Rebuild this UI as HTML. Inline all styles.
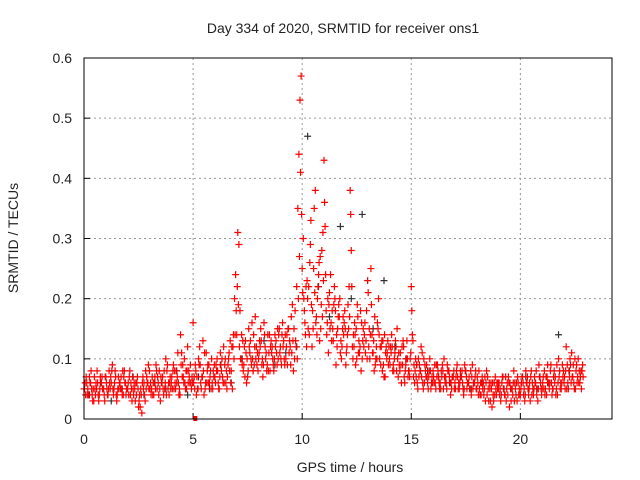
<!DOCTYPE html>
<html><head><meta charset="utf-8"><style>
body{margin:0;background:#fff}
svg{display:block;font-family:"Liberation Sans",sans-serif}
</style></head><body>
<svg id="c" width="640" height="480"></svg>
<script>
const xTicks=[0,5,10,15,20];
const yTicks=[0,0.1,0.2,0.3,0.4,0.5,0.6];
const yTickLabels=["0","0.1","0.2","0.3","0.4","0.5","0.6"];
const redA=[.05,.07,.04,.06,.03,.05,.08,.04,.06,.05, .07,.04,.05,.09,.06,.03,.05,.07,.04,.06, .05,.08,.03,.06,.04,.02,.05,.07,.03,.06, .08,.05,.04,.09,.06,.03,.07,.05,.08,.04, .06,.09,.05,.11,.04,.07,.10,.05,.08,.06, .16,.09,.05,.12,.07,.04,.11,.06,.08,.05, .07,.10,.05,.08,.12,.06,.09,.13,.05,.20, .14,.29,.10,.08,.13,.07,.11,.16,.09,.12, .10,.15,.07,.12,.09,.14,.11,.08,.13,.10, .12,.16,.09,.14,.11,.17,.08,.13,.35,.53, .25,.18,.12,.22,.33,.15,.38,.20,.13,.28, .43,.18,.11,.24,.15,.20,.12,.17,.10,.14, .09,.19,.38,.12,.16,.10,.13,.08,.15,.11, .23,.10,.14,.08,.12,.20,.09,.13,.07,.11, .10,.14,.08,.12,.07,.11,.09,.06,.13,.08, .22,.07,.10,.05,.08,.11,.06,.09,.07,.05, .08,.06,.09,.05,.07,.10,.06,.08,.04,.07, .06,.09,.05,.07,.04,.08,.06,.05,.09,.06, .05,.08,.04,.06,.03,.07,.05,.02,.06,.04, .05,.03,.07,.04,.06,.02,.05,.08,.04,.06, .04,.07,.03,.06,.05,.08,.04,.06,.03,.07, .05,.08,.04,.06,.09,.05,.07,.04,.08,.06, .06,.12,.05,.09,.07,.10,.06,.08,.05];
const redB=[.06,.04,.07,.05,.03,.06,.04,.07,.05,.03, .05,.08,.06,.04,.07,.05,.06,.04,.08,.05, .04,.06,.05,.03,.07,.04,.01,.06,.05,.09, .06,.04,.07,.05,.08,.06,.04,.10,.05,.07, .05,.08,.06,.04,.09,.07,.05,.12,.06,.07, .07,.04,.10,.06,.13,.05,.08,.06,.10,.07, .09,.06,.11,.07,.09,.05,.11,.08,.14,.24, .31,.18,.09,.12,.06,.15,.10,.08,.17,.11, .13,.09,.16,.11,.08,.12,.10,.14,.09,.15, .09,.13,.10,.15,.12,.19,.10,.22,.44,.57, .30,.14,.20,.26,.12,.35,.17,.24,.15,.31, .32,.16,.21,.13,.19,.09,.17,.11,.15,.18, .12,.22,.28,.14,.09,.17,.12,.10,.14,.18, .12,.25,.11,.09,.16,.10,.13,.07,.12,.09, .12,.08,.11,.15,.09,.06,.12,.09,.07,.10, .14,.06,.09,.07,.12,.05,.08,.06,.10,.07, .06,.09,.07,.05,.08,.06,.09,.07,.05,.08, .07,.05,.08,.06,.09,.05,.07,.04,.06,.08, .06,.04,.07,.05,.08,.03,.06,.04,.07,.05, .04,.06,.05,.03,.07,.05,.04,.06,.03,.05, .06,.04,.08,.05,.03,.06,.07,.04,.09,.05, .07,.05,.09,.06,.04,.08,.05,.10,.06,.07, .05,.09,.07,.11,.06,.08,.10,.07,.09];
const redC=[.05,.06,.04,.08,.05,.04,.06,.05,.07,.04, .06,.05,.07,.05,.08,.04,.06,.05,.07,.04, .06,.04,.07,.05,.06,.03,.04,.05,.08,.06, .05,.07,.06,.08,.04,.07,.05,.06,.09,.06, .07,.05,.08,.06,.14,.09,.06,.08,.07,.05, .06,.08,.05,.09,.07,.11,.06,.09,.05,.08, .06,.08,.07,.10,.06,.08,.10,.06,.12,.14, .22,.12,.14,.09,.11,.08,.13,.10,.12,.09, .11,.13,.09,.10,.14,.08,.12,.10,.11,.14, .10,.12,.14,.09,.13,.11,.15,.12,.20,.41, .21,.16,.23,.14,.19,.25,.16,.22,.27,.17, .36,.14,.19,.16,.13,.18,.15,.20,.12,.16, .11,.15,.34,.10,.14,.19,.11,.16,.12,.13, .21,.14,.11,.17,.10,.14,.12,.09,.11,.13, .09,.12,.10,.08,.11,.09,.13,.08,.10,.07, .18,.09,.07,.10,.08,.06,.09,.07,.08,.06, .07,.05,.08,.06,.09,.07,.05,.08,.06,.07, .05,.07,.06,.08,.05,.07,.06,.08,.05,.07, .07,.05,.06,.04,.06,.05,.03,.06,.04,.06, .06,.04,.05,.07,.04,.06,.05,.03,.06,.04, .05,.06,.04,.07,.06,.04,.05,.08,.05,.06, .06,.04,.07,.05,.06,.07,.04,.06,.05,.09, .07,.05,.08,.06,.09,.05,.07,.06,.08];
const redD=[.04,.05,.06,.04,.07,.05,.03,.06,.05,.07, .04,.06,.08,.05,.04,.07,.05,.08,.06,.05, .07,.05,.04,.06,.05,.02,.06,.04,.07,.05, .04,.06,.05,.07,.05,.06,.08,.04,.06,.05, .08,.06,.07,.05,.11,.06,.08,.06,.09,.06, .05,.07,.09,.05,.08,.06,.09,.07,.06,.09, .08,.05,.09,.06,.10,.07,.08,.12,.10,.18, .19,.10,.13,.07,.10,.12,.09,.14,.10,.08, .12,.10,.14,.08,.11,.13,.09,.12,.15,.11, .14,.10,.12,.15,.09,.13,.18,.10,.27,.34, .20,.22,.15,.29,.18,.21,.14,.26,.19,.23, .24,.20,.15,.18,.22,.14,.19,.13,.17,.15, .14,.17,.22,.12,.15,.11,.18,.13,.16,.10, .15,.19,.13,.10,.15,.12,.08,.14,.10,.12, .11,.09,.13,.10,.08,.12,.07,.10,.08,.11, .13,.08,.06,.09,.07,.10,.07,.05,.08,.06, .09,.07,.06,.08,.05,.07,.08,.06,.07,.05, .08,.06,.07,.05,.08,.06,.05,.07,.06,.05, .04,.06,.05,.07,.04,.06,.05,.03,.05,.06, .05,.07,.04,.05,.06,.03,.06,.05,.07,.04, .07,.05,.06,.04,.07,.05,.06,.05,.07,.04, .05,.07,.06,.08,.05,.06,.09,.07,.05,.08, .08,.06,.10,.07,.05,.09,.06,.08,.07];
const blackV=[.04,.06,.03,.05,.07,.04,.06,.05,.08,.04, .07,.05,.09,.06,.10,.08,.13,.09,.11,.12, .47,.22,.17,.32,.20,.34,.15,.23,.12,.10, .09,.08,.07,.06,.07,.05,.06,.04,.05,.06, .07,.05,.06,.14,.08,.07];
const stepA=0.1, offB=0.05, offC=0.025, offD=0.075, stepK=0.5, offK=0.25;
const X0=84,X1=612,Y0=419,Y1=58,XMAX=24.2,YMAX=0.6;
const sx=v=>X0+v/XMAX*(X1-X0), sy=v=>Y0-v/YMAX*(Y0-Y1);
const svg=document.getElementById('c'),NS='http://www.w3.org/2000/svg';
function mk(t,a,p){const e=document.createElementNS(NS,t);for(const k in a)e.setAttribute(k,a[k]);(p||svg).appendChild(e);return e;}
const g=mk('g',{});


xTicks.forEach(t=>{if(t>0){mk('line',{x1:sx(t),x2:sx(t),y1:Y1,y2:Y0,stroke:'#999','stroke-dasharray':'2,3'},g);}
 const tx=mk('text',{x:sx(t),y:444,'text-anchor':'middle','font-size':14,fill:'#222'});tx.textContent=t;
 
 
 mk('line',{x1:sx(t),x2:sx(t),y1:Y0,y2:Y0-6,stroke:'#000'});});
yTicks.forEach((t,i)=>{if(t>0&&t<0.6)mk('line',{x1:X0,x2:X1,y1:sy(t),y2:sy(t),stroke:'#999','stroke-dasharray':'2,3'},g);
 const tx=mk('text',{x:72,y:sy(t)+5,'text-anchor':'end','font-size':14,fill:'#222'});tx.textContent=yTickLabels[i];
 
 
 mk('line',{x1:X0,x2:X0+6,y1:sy(t),y2:sy(t),stroke:'#000'});});
function plus(x,y,c,name){const p=mk('path',{d:`M${x-3.5},${y}h7M${x},${y-3.5}v7`,stroke:c,'stroke-width':1.2,fill:'none'});
 
 }
blackV.forEach((v,i)=>plus(sx(offK+i*stepK),sy(v),'#333','black-point'));
redA.forEach((v,i)=>plus(sx(i*stepA),sy(v),'#f00','red-point'));
redB.forEach((v,i)=>plus(sx(offB+i*stepA),sy(v),'#f00','red-point'));
redC.forEach((v,i)=>plus(sx(offC+i*stepA),sy(v),'#f00','red-point'));
redD.forEach((v,i)=>plus(sx(offD+i*stepA),sy(v),'#f00','red-point'));
mk('rect',{x:sx(5.1)-2,y:Y0-3,width:4,height:5,fill:'#f00'});
const b=mk('rect',{x:X0,y:Y1,width:X1-X0,height:Y0-Y1,fill:'none',stroke:'#000'});


const ti=mk('text',{x:343,y:33,'text-anchor':'middle','font-size':14,fill:'#222'});ti.textContent='Day 334 of 2020, SRMTID for receiver ons1';


const xt=mk('text',{x:350,y:472,'text-anchor':'middle','font-size':14,fill:'#222'});xt.textContent='GPS time / hours';


const yt=mk('text',{x:0,y:0,'text-anchor':'middle','font-size':14,fill:'#222',transform:'translate(18,238) rotate(-90)'});yt.textContent='SRMTID / TECUs';


</script>
</body></html>
